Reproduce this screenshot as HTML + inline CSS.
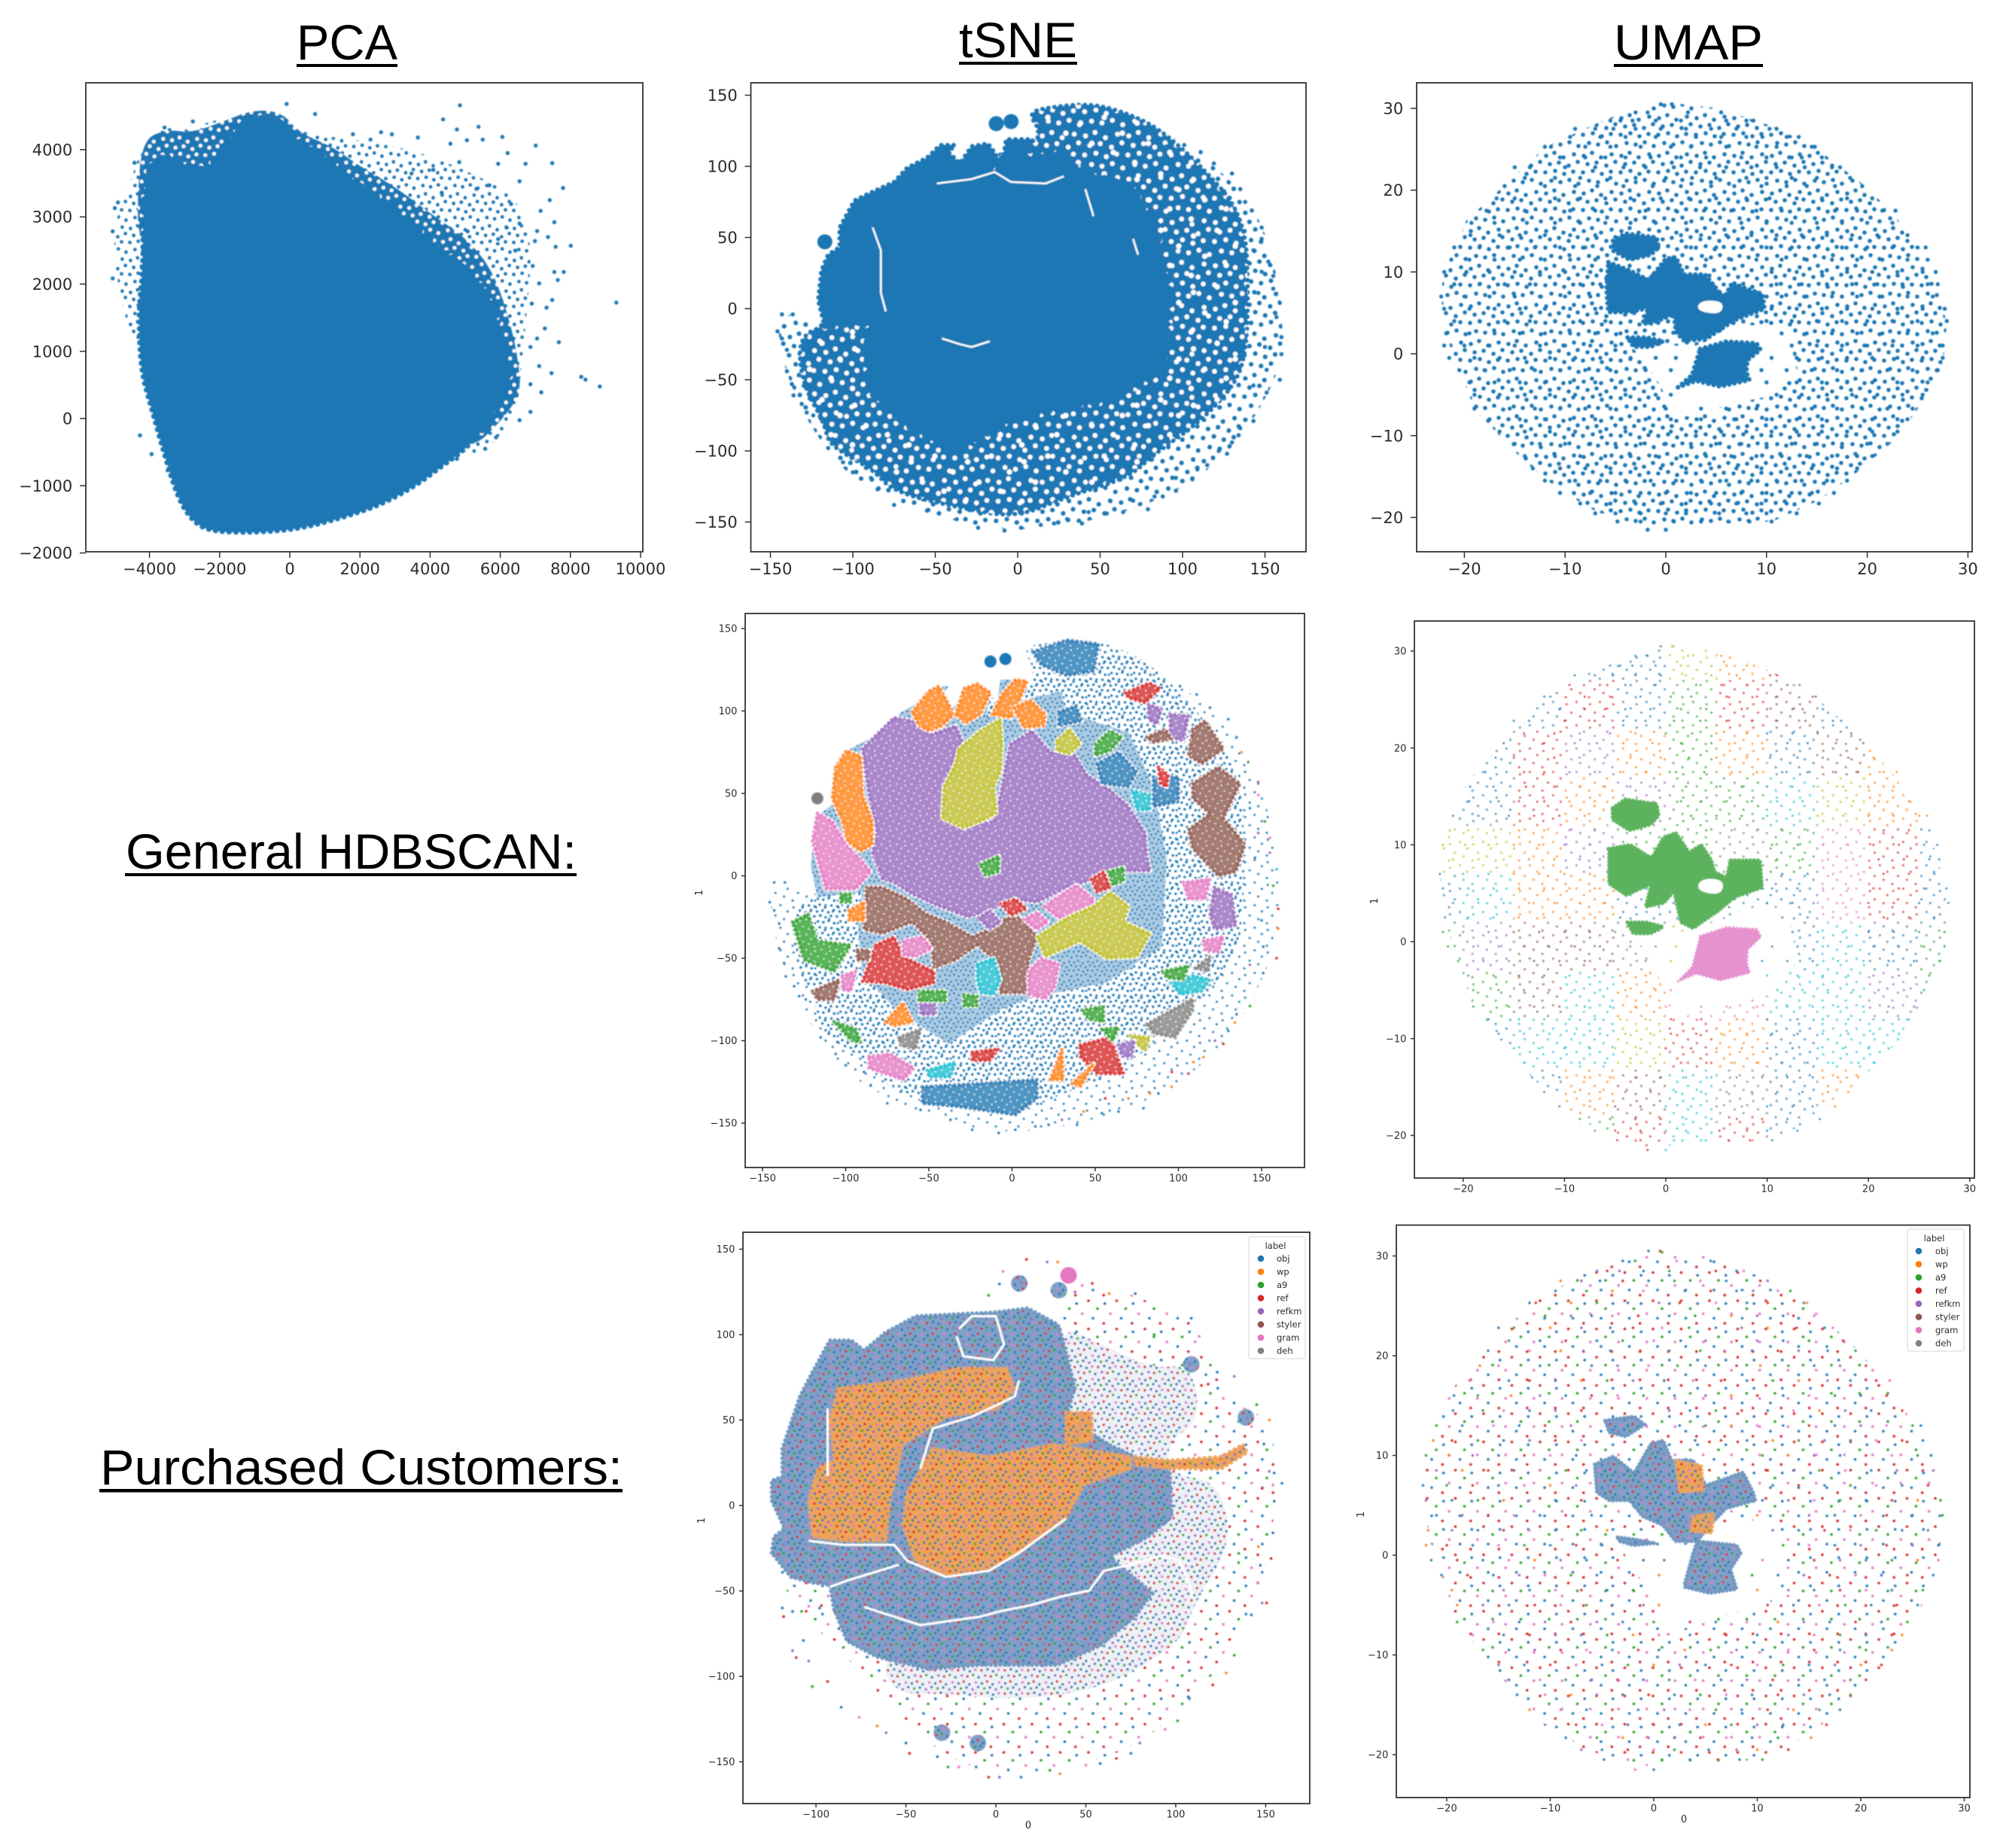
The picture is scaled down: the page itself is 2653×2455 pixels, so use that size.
<!DOCTYPE html>
<html lang="en"><head><meta charset="utf-8"><title>PCA, tSNE and UMAP projections</title>
<style>html,body{margin:0;padding:0;background:#fff}svg{display:block}text{font-family:"DejaVu Sans","Liberation Sans",sans-serif;fill:#2b2b2b}.head{font-family:"Liberation Sans",sans-serif;fill:#000;font-size:66px}</style></head>
<body>
<svg id="figure" xmlns="http://www.w3.org/2000/svg" width="2653" height="2455" viewBox="0 0 2653 2455">
<defs>
<filter id="soft" x="-2%" y="-2%" width="104%" height="104%"><feGaussianBlur stdDeviation="0.7"/></filter>
<g id="tile-dense" fill="currentColor"><circle cx="4" cy="7" r="2.8"/><circle cx="15" cy="3" r="2.8"/><circle cx="27" cy="9" r="2.8"/><circle cx="41" cy="5" r="2.8"/><circle cx="9" cy="18" r="2.8"/><circle cx="21" cy="16" r="2.8"/><circle cx="34" cy="20" r="2.8"/><circle cx="46" cy="15" r="2.8"/><circle cx="3" cy="29" r="2.8"/><circle cx="16" cy="27" r="2.8"/><circle cx="28" cy="31" r="2.8"/><circle cx="40" cy="28" r="2.8"/><circle cx="11" cy="40" r="2.8"/><circle cx="23" cy="42" r="2.8"/><circle cx="35" cy="39" r="2.8"/><circle cx="47" cy="44" r="2.8"/></g>
<g id="tile-sparse" fill="currentColor"><circle cx="7" cy="9" r="2.4"/><circle cx="28" cy="4" r="2.4"/><circle cx="44" cy="18" r="2.4"/><circle cx="17" cy="27" r="2.4"/><circle cx="36" cy="35" r="2.4"/><circle cx="5" cy="44" r="2.4"/></g>
<g id="tile-mix-dense"><circle cx="4" cy="7" r="2.8" fill="#1f77b4"/><circle cx="15" cy="3" r="2.8" fill="#d62728"/><circle cx="27" cy="9" r="2.8" fill="#1f77b4"/><circle cx="41" cy="5" r="2.8" fill="#e377c2"/><circle cx="9" cy="18" r="2.8" fill="#2ca02c"/><circle cx="21" cy="16" r="2.8" fill="#1f77b4"/><circle cx="34" cy="20" r="2.8" fill="#9467bd"/><circle cx="46" cy="15" r="2.8" fill="#1f77b4"/><circle cx="3" cy="29" r="2.8" fill="#d62728"/><circle cx="16" cy="27" r="2.8" fill="#1f77b4"/><circle cx="28" cy="31" r="2.8" fill="#1f77b4"/><circle cx="40" cy="28" r="2.8" fill="#e377c2"/><circle cx="11" cy="40" r="2.8" fill="#9467bd"/><circle cx="23" cy="42" r="2.8" fill="#d62728"/><circle cx="35" cy="39" r="2.8" fill="#2ca02c"/><circle cx="47" cy="44" r="2.8" fill="#1f77b4"/></g>
<g id="tile-mix-sparse"><circle cx="7" cy="9" r="2.4" fill="#1f77b4"/><circle cx="28" cy="4" r="2.4" fill="#d62728"/><circle cx="44" cy="18" r="2.4" fill="#2ca02c"/><circle cx="17" cy="27" r="2.4" fill="#e377c2"/><circle cx="36" cy="35" r="2.4" fill="#1f77b4"/><circle cx="5" cy="44" r="2.4" fill="#d62728"/></g>
</defs>
<rect width="2653" height="2455" fill="#fff"/>

<text class="head" x="394" y="79" textLength="134" lengthAdjust="spacingAndGlyphs">PCA</text>
<rect x="394" y="85" width="134" height="4" fill="#000"/>
<text class="head" x="1274" y="76" textLength="157" lengthAdjust="spacingAndGlyphs">tSNE</text>
<rect x="1274" y="82" width="157" height="4" fill="#000"/>
<text class="head" x="2144" y="79" textLength="198" lengthAdjust="spacingAndGlyphs">UMAP</text>
<rect x="2144" y="85" width="198" height="4" fill="#000"/>
<text class="head" x="167" y="1154" textLength="599" lengthAdjust="spacingAndGlyphs">General HDBSCAN:</text>
<rect x="166" y="1160" width="600" height="4" fill="#000"/>
<text class="head" x="133" y="1972" textLength="694" lengthAdjust="spacingAndGlyphs">Purchased Customers:</text>
<rect x="132" y="1978" width="695" height="4.5" fill="#000"/>
</svg>
<script>
/* ---------- categories ---------- */
const legendLabels=["obj","wp","a9","ref","refkm","styler","gram","deh"];
const tab10=["#1f77b4","#ff7f0e","#2ca02c","#d62728","#9467bd","#8c564b","#e377c2","#7f7f7f","#bcbd22","#17becf"];
/* ---------- tick labels ---------- */
const pcaXTicks=[-4000,-2000,0,2000,4000,6000,8000,10000];
const pcaYTicks=[-2000,-1000,0,1000,2000,3000,4000];
const tsneXTicks=[-150,-100,-50,0,50,100,150];
const tsneYTicks=[-150,-100,-50,0,50,100,150];
const tsnePurchasedXTicks=[-100,-50,0,50,100,150];
const umapXTicks=[-20,-10,0,10,20,30];
const umapYTicks=[-20,-10,0,10,20,30];
/* ---------- PCA values ---------- */
const pcaDenseOutline=[[-4120,3530],[-3940,3816],[-3500,3930],[-2950,3760],[-2450,3700],[-1960,3930],[-1470,4390],[-850,4500],[-235,4450],[260,4100],[1120,3870],[1990,3470],[2850,3190],[3840,2730],[4700,2380],[5570,1980],[5940,1470],[6185,950],[6300,550],[5800,150],[5570,-140],[4950,-480],[4330,-710],[3590,-1000],[2600,-1280],[1620,-1455],[380,-1630],[-850,-1695],[-2210,-1685],[-2765,-1540],[-3200,-1170],[-3570,-540],[-3940,150],[-4250,720],[-4310,1640],[-4185,2210],[-4185,3014]];
const pcaFringeOutline=[[-4350,3300],[-4200,4150],[-3500,4300],[-2800,4250],[-2000,4400],[-1000,4600],[-200,4550],[260,4250],[1200,4050],[2000,3750],[3000,3450],[4000,3050],[5000,2700],[5800,2200],[6300,1400],[6500,900],[6600,400],[6100,0],[5000,-550],[0,0],[-4300,2500]];
const pcaHazeOutline=[[260,4250],[1800,4150],[3500,4000],[5000,3700],[6500,3300],[6900,2600],[6800,1800],[6600,800],[6500,100],[5700,-450],[4800,-620],[3000,2000],[0,3000],[-3000,2500],[-4000,1000],[-4330,1000],[-4700,1500],[-5000,2300],[-5000,2900],[-4700,3300],[-4300,3900],[-4100,4150],[-3500,4350],[-2700,4350],[-2000,4450],[-900,4620]];
const pcaOutliers=[[9310,1725],[8840,476],[8310,620],[8430,580],[8010,2570],[7790,3430],[4850,4660],[4370,4450],[5380,4340],[4765,4300],[6060,4190],[7010,4060],[6210,3950],[5500,4150],[5050,4140],[4580,4090],[3650,4180],[2910,4230],[2600,4260],[1800,4230],[2300,4150],[720,4530],[-90,4680],[6720,3790],[7480,3800],[5940,3790],[7410,3250],[7540,2920],[7150,3090],[7050,2790],[7360,2700],[7580,2555],[6990,2640],[7540,2180],[7810,2180],[7640,2060],[7110,2010],[7480,1765],[6900,1710],[7320,1650],[7270,1340],[7670,1135],[7050,1190],[6860,1065],[7110,780],[7460,675],[6860,510],[7170,390],[6860,100],[6550,-25],[5880,-280],[5570,-450],[4765,-600],[-4270,-250],[-3940,-530],[-3480,-770],[-5050,2085],[-5050,2785],[-4990,3130],[-4900,3215],[-4430,3805],[-2765,4420],[-3570,4330],[6550,3530],[6310,3190],[6185,2840],[6430,2500],[6925,2270],[5320,3415],[4330,3360],[3470,3645],[4090,3700],[4830,3815],[5690,3470],[6550,2900],[5940,2670],[5070,2785]];
/* ---------- tSNE embedding values ---------- */
const tsneDenseOutline=[[-117,-13],[-121,6],[-119,27],[-115,38],[-108,43],[-108,57],[-99,76],[-90,81],[-75,89],[-67,99],[-55,106],[-47,115],[-38,115],[-42,110],[-35,102],[-28,114],[-18,116],[-13,108],[-16,96],[-10,98],[-7,119],[9,119],[9,112],[4,106],[30,112],[31,103],[45,95],[70,87],[85,54],[93,11],[90,-43],[56,-65],[30,-70],[9,-75],[-7,-81],[-38,-102],[-70,-81],[-90,-59],[-93,-27],[-90,-10]];
const tsneLooseOutline=[[-117,-13],[-90,60],[-50,100],[9,112],[14,125],[6,138],[22,142],[46,144],[67,137],[85,127],[109,103],[138,65],[140,6],[138,-35],[130,-56],[109,-81],[83,-102],[67,-119],[30,-132],[-1,-147],[-35,-140],[-75,-129],[-88,-113],[-101,-105],[-115,-94],[-117,-81],[-130,-54],[-133,-27],[-127,-16]];
const tsneDiscOutline=[[-146,-16],[-140,-2],[-128,-10],[-117,-13],[-90,60],[0,110],[60,140],[100,118],[135,85],[150,55],[157,25],[161,-10],[160,-40],[145,-75],[125,-105],[95,-130],[55,-147],[5,-157],[-40,-150],[-85,-130],[-108,-112],[-130,-75],[-142,-40]];
const tsneDenseCracks=[[[-46,-21],[-35,-25],[-28,-27],[-17,-23]],[[-88,57],[-83,41],[-83,11],[-80,-2]],[[-49,88],[-28,91],[-14,96],[-4,89],[17,88],[28,93]],[[41,84],[46,65]],[[70,49],[73,38]]];
const tsneClumps=[[-13,130],[-4,131.5],[-117,47]];
const tsneClumpHdbLabels=[0,0,7];
const tsneOuter=[[-145.7,-16],[-143,-4],[-136.5,-4],[-143,-21],[-140,-29],[-140,-44],[-137,-53],[-136,-61],[-131,-67],[-128,-73],[-124,-75],[-115,-98],[-106,-108],[-100,-115],[-89,-119],[-85,-127],[-75,-138],[-55,-142],[-37,-148],[-24,-154],[-8,-156],[2,-154],[14,-152],[22,-151],[39,-151],[54,-144],[64,-143],[79,-141],[88,-132],[96,-128],[106,-120],[115,-110],[127,-102],[134,-89],[143,-79],[151,-59],[159,-50],[160,-32],[160,-20],[157,-6],[159,4],[155,14],[155,23],[148,26],[152,33],[148,49],[148,57],[142,69],[138,75],[135,84],[130,95],[119,102],[111,110],[101,115],[90,114],[130,-94],[122,-100],[109,-113],[96,-119],[83,-132],[70,-135],[56,-135],[43,-143],[30,-148],[143,-54],[151,-43],[150,-27],[146,11],[143,41],[135,-84]];
const tsneOuterHdbLabels="0000000000000000000000000000013131203132946426421000000041311314400000022";
const tsneHdbClusterLabels=[0,0,0,4,8,1,1,1,1,1,6,5,3,6,9,6,6,6,8,2,3,2,3,4,8,0,9,5,5,2,7,6,1,2,3,1,1,3,9,2,4,6,7,3,2,0,2,4,4,5,3,7,4,2,2,2,9,8,4,6,1,2,5,6,5];
const tsneHdbClusterOutlines=[
[[12.5,136],[33,143],[52,140.6],[49,124],[33,121.5],[17.6,128]],
[[28,99.5],[38.5,103],[42,94],[28,91]],
[[-54,-128],[-19,-126],[15,-123.6],[15,-135],[2,-145],[-32,-140],[-54,-138]],
[[-90,77],[-71,96],[-60,94],[-49,85.5],[-34,91],[-30,82],[-37,66],[-42,49],[-42,35],[-32,29],[-11,33],[-7,49],[-4,66],[-1,80],[12,88],[23,75],[38,73],[45,61],[59,52],[70,42],[80,26],[81,12],[83,3],[70,3],[49,-2],[33,-7],[15,-16],[0,-14],[-13.5,-21],[-26.5,-25],[-45,-18],[-60,-11],[-71,-4],[-78,-2],[-84,14],[-81,26],[-86,49]],
[[-32,77],[-19,88],[-7,95],[-6,80],[-7,63],[-11,54],[-9.5,38],[-19,33],[-29,29],[-42,35],[-41,54],[-34,68]],
[[-60,99.5],[-50,112],[-44,115],[-35,98],[-42,91],[-50,88],[-56,91]],
[[-34,98],[-29,113.5],[-21,116.5],[-13,111],[-19,98],[-28,92.5]],
[[-12,98],[-6,110],[2,119],[9,118],[5,108],[-.5,96],[-7,97]],
[[1,102],[11,106.5],[20,98],[19,91],[7,90]],
[[-106,66],[-99.5,76],[-91,72.5],[-90,49],[-84,33],[-84,19],[-91,15],[-99,21],[-102,33],[-108,47]],
[[-117,38],[-108,33],[-100,19],[-91,10],[-85,2.5],[-94,-8],[-112,-8],[-116,7],[-120,21]],
[[-87.5,-7],[-78,-7],[-63,-14],[-52,-23],[-39.5,-28],[-24,-37],[-13.5,-32.5],[-3,-25.5],[4.7,-25.5],[15,-37],[10,-51],[8.6,-71],[-7,-71],[-7,-53.5],[-21,-42],[-34,-51],[-47,-56],[-48.5,-39.5],[-60,-28],[-78,-35],[-89,-32.5]],
[[-82,-42],[-71,-37],[-65.5,-49],[-47,-58],[-47,-65],[-63,-69],[-76,-65],[-90,-64],[-86,-53.5]],
[[-65.5,-39.5],[-54,-37],[-48.5,-44],[-58,-49],[-65.5,-48]],
[[-21,-53.5],[-11,-50],[-7,-63],[-11,-72],[-19,-71],[-21,-63]],
[[10,-58],[17.6,-50],[28,-53.5],[25.5,-67.5],[20,-74.5],[10,-72]],
[[19,-18.5],[38.5,-5.6],[49,-14],[46,-23],[28,-25.5]],
[[7,-26.6],[15,-22],[21.5,-28],[15,-32.5]],
[[15,-37],[33,-25.5],[49,-18.5],[59,-10],[70,-18.5],[67,-28],[83,-35],[75,-49],[56.6,-50],[41,-39.5],[31,-44],[20,-49]],
[[-19,7],[-8,12],[-8,2.5],[-16,0]],
[[47.5,-2],[55,2.5],[59,-7],[51,-10]],
[[58,2.5],[67,5],[67,-3],[60.5,-5.6]],
[[-7,-17],[2,-14],[8.6,-20],[-.5,-24]],
[[-20,-25.5],[-13.5,-21],[-7,-28],[-13.5,-32.5]],
[[27,82],[34.5,89],[41,80],[34.5,74],[27,76]],
[[51,68],[64,75],[75,63],[70,54],[54,56]],
[[72,52],[83,49],[83,40],[75,40]],
[[108.6,89],[116,94],[127,77],[114,68],[106,73]],
[[108.6,56],[124,66],[137,56],[127,35],[140,19],[134.5,2.5],[124,0],[108.6,16.6],[106,28],[119,37.6],[108.6,47]],
[[-132,-28],[-122.6,-23],[-117,-39.5],[-97,-42],[-107,-58],[-125,-51]],
[[81,-90],[108.6,-74.5],[108.6,-81.5],[98,-98],[85,-95.5]],
[[-86,-109.6],[-73.5,-108],[-59,-116.6],[-65.5,-123.6],[-86,-116.6]],
[[-76,-88.5],[-65.5,-77],[-60,-88.5],[-70.6,-91]],
[[-107,-88.5],[-94,-93],[-91,-101],[-96.6,-100]],
[[41,-102.6],[59,-98],[67,-120],[51,-120],[41,-109.6]],
[[23,-123.6],[30,-105],[30.6,-123.6]],
[[36,-126],[49,-114],[41,-128]],
[[-24,-107],[-8,-105],[-13.5,-112],[-24,-112]],
[[95.6,-65],[108.6,-60.5],[119,-63],[114,-70],[101,-72]],
[[90.4,-58],[106,-54.6],[103,-63],[93,-61.7]],
[[121.6,-7],[132,-11.4],[134.5,-30],[121.6,-32.5],[119,-23]],
[[115,-39.5],[127,-37],[124,-46.5],[116,-45]],
[[110,-56],[119,-49],[118,-58]],
[[68,111],[82.6,117],[89,113.6],[80,105],[70,108]],
[[50,80],[59,88],[66,84],[59,76],[50,73]],
[[85,60],[100,60],[100,45],[85,42]],
[[-56,-70],[-40,-70],[-40,-76],[-56,-76]],
[[82,104],[90,101],[87,92],[82,95]],
[[95,98],[106,97],[103,82],[95,84]],
[[81,84],[92,89],[96,83],[85,81]],
[[88,66],[94,61],[93,54],[89,56]],
[[-68,-98],[-55,-93],[-58,-105],[-67,-103]],
[[-55,-78],[-46,-78],[-46,-84],[-55,-84]],
[[-29,-72],[-21,-73],[-21,-79],[-29,-79]],
[[42,-81.5],[55,-79],[55,-88.5],[46,-87]],
[[54,-93],[64,-92],[60.5,-100]],
[[-51,-118],[-34,-113],[-37,-122],[-50,-122]],
[[71,-97],[82.6,-98],[80,-106],[75,-102]],
[[64,-102.6],[73.5,-100],[72,-109.6],[66,-109.6]],
[[103,-4],[119,-2],[116,-14],[106,-14]],
[[-98,-21],[-89,-16],[-89,-27],[-98,-27]],
[[-103,-11],[-97,-11],[-97,-16],[-103,-16]],
[[-120,-70],[-104,-63],[-107,-75],[-117,-75]],
[[-102,-60.5],[-94,-58],[-97,-70],[-102,-69]],
[[-93,-45],[-86,-45],[-86,-51],[-93,-51]]];
/* ---------- tSNE purchased-customer values ---------- */
const tsneBuyerDiscOutline=[[-124.6,-27.7],[-114,-58],[-80.4,-91],[-51.7,-126.4],[-23,-150],[5.7,-158],[36.8,-154.5],[75,-143],[103.8,-119],[125.4,-93.4],[144.5,-65],[151.6,-20.7],[158.6,12.2],[151.6,52],[135,56.8],[118,85],[111,110],[82.6,120],[44,136],[34.4,106]];
const tsneBuyerMidOutline=[[34,106],[53.6,97],[87,80],[108.6,82.6],[114,50],[94,36],[99,17],[123,15],[132,-21],[111,-56],[104,-77],[87,-91],[58,-107],[15,-114],[-32,-110],[-56,-110],[-66,-88],[30,0]];
const tsneBuyerMassOutline=[[-124.6,-27.7],[-123.4,-18.3],[-117.5,-13.6],[-124.6,2.8],[-124.6,14.6],[-118.7,16.9],[-118.7,33.3],[-109,63.8],[-102,78],[-92.3,96.7],[-80.4,96.7],[-73.2,90.8],[-61.2,101.4],[-44.5,110.8],[-23,112],[-1.4,113],[17.7,115.5],[34.4,106],[36.8,99],[44,68.5],[39,52],[63,35.7],[77.5,28.6],[96.7,21.6],[97.8,-6.6],[84.7,-18.3],[63,-30],[87,-51],[77.5,-65],[58.4,-81.7],[34.4,-93.4],[-8.6,-93.4],[-37.3,-95.8],[-66,-88.7],[-82.8,-79.3],[-90,-60.6],[-92.3,-46.5],[-102,-45.3],[-114,-41.8]];
const tsneBuyerOrangeOutlines=[
[[-92.3,49.8],[-87.6,68.5],[-51.7,73.2],[-20.6,80.3],[5.7,80.3],[10.5,68.5],[1,56.8],[-27.5,52],[-51.7,35.7],[-59,2.8],[-61.2,-20.7],[-85,-20.7],[-101.7,-18.3],[-104,2.8],[-99,21.6],[-89.5,26.3]],
[[-35,33.3],[-3.8,28.6],[32,35.7],[75,28.6],[75,21.6],[49,12.2],[39,-6.6],[12.9,-27.7],[-3.8,-37],[-27.8,-40.6],[-44.5,-32.4],[-51.7,-11.3],[-49.3,7.5]],
[[77.5,28.6],[96.7,26.3],[125.4,28.6],[137.3,35.7],[139.7,31],[125.4,21.6],[96.7,21.6],[77.5,23.9]],
[[39,54.5],[53.4,54.5],[53.4,38],[39,35.7]]];
const tsneBuyerCracks=[
[[-93.5,56.8],[-93.5,17]],
[[-104,-20.7],[-85,-23],[-56.5,-23],[-49.3,-32.4],[-27.8,-41.8],[-3.8,-38.2],[12.9,-27.7],[39,-7.7]],
[[-73.2,-59.4],[-42,-70],[-8.6,-65],[3,-61.7],[18.4,-58.6],[37.6,-52.9],[52,-49.8],[60,-38.3],[77,-34],[91,-29.5]],
[[-92.3,-47.7],[-82.8,-44],[-54,-34.7]],
[[-42,21.6],[-35,45],[-13.4,52],[10.5,63.8],[12.9,73.2]],
[[-21.8,99],[-18,87.3],[-1.4,85],[4.5,94.4],[0,110.8],[-13.4,110.8],[-20.6,103.3]],
[[91,-29.5],[102,-32],[109,-50],[109,-54]]];
const tsneBuyerClumps=[[40.4,134.7],[13,130],[35,126],[139,51.6],[108.6,82.6],[-30,-133],[-10,-139]];
const tsneBuyerClumpLabels=[6,0,0,0,0,0,0];
const tsneBuyerOuter=[[-118.7,-60],[-118,-65],[-113,-62],[-108,-62],[-104,-59],[-98,-60],[-113,-85],[-111,-89],[-104,-91],[-107,-79],[-102,-106],[-93.5,-103],[-86,-118],[-76,-124],[-66,-129],[-61,-133],[-50,-139],[-48,-145],[-32.5,-147],[-26.6,-153],[-20.6,-153],[-11,-153],[-4,-159],[2,-159],[14,-159],[30,-155],[35.6,-157],[50,-152],[58,-151],[67,-148],[75,-145],[80,-139],[94,-131],[101,-126],[107,-112],[120.6,-105],[128,-98],[132.5,-87.6],[142,-64],[148,-57],[150.5,-57],[145.7,-45],[147,-35],[153,-31],[154,-16],[146,-24],[135,-28],[152,20],[159,13],[154,12],[148,10],[149,36],[145,59],[152,50],[132.5,75.6],[123,78],[118,71],[113,99],[108.6,109.6],[88,100],[63,124],[44,125],[77.5,124],[17,144],[4,137],[-4,123],[2,129.6],[28.5,142.5],[34.4,142.5],[53.6,130]];
const buyerLabels="0302604340230614030260340216030462031204360301240630214036021403620413062";
/* ---------- UMAP embedding values ---------- */
const umapCloudOutline=[[-22.1,9.8],[-22.3,6.9],[-21.7,1.8],[-20.2,-2.9],[-19,-6.7],[-16.5,-10],[-14,-13.2],[-10.7,-16.5],[-6.9,-19.3],[-1.9,-21.2],[3.5,-20.8],[10.6,-20.5],[15.2,-17.9],[19.3,-14.2],[23,-10.2],[25.6,-5.7],[27.5,-1.5],[27.9,3.7],[26.8,8.8],[25.2,13],[22.3,17.5],[19.3,21],[14.75,25.3],[10.6,27.8],[5.2,30],[.2,30.7],[-5.7,28.8],[-11.9,25.3],[-16.9,19.6],[-19.8,16.3],[-21,12.6]];
const umapHoleOutline=[[-3.5,1],[3,1],[8,3.5],[12,3.5],[13,-2],[11,-5],[7,-6],[1,-8],[-.5,-4],[-2,-1]];
const umapMainOutline=[[-5.7,11.2],[-3.6,10.2],[-1.7,9],[0,11.6],[1,11.8],[1.8,9.7],[3.9,9.7],[5,8],[5.8,6.9],[6.6,8.7],[7.9,8],[9.6,7.3],[9.8,5.5],[6.8,4.1],[4,1.8],[1.8,1.6],[1,2.7],[.8,4.8],[-1.5,3.7],[-2.3,3.7],[-1.7,5.6],[-3.6,5.1],[-5.7,5.1],[-5.9,7.9]];
const umapIslandGapOutline=[[3.2,5.2],[5.4,4.8],[5.8,6.2],[4.4,6.6],[3.2,6.2]];
const umapTopOutline=[[-5.25,13.8],[-4,14.7],[-.9,14.2],[-.7,13],[-1.5,12.1],[-3.6,11.5],[-5.25,12.6]];
const umapSliverOutline=[[-3.8,2],[-1.9,2],[-.25,1.55],[-1.5,.85],[-3.2,.85]];
const umapLowerOutline=[[3.4,.6],[6,1.5],[9,1.3],[9.4,.5],[8.1,-.8],[8,-2.2],[8.3,-3.2],[5.4,-4],[3,-3.3],[1.2,-4.1],[2.6,-2.6]];
const umapHdbMainOutline=[[-5.6,9.6],[-3.5,10],[-1.4,8.6],[-.2,10.8],[1,11.2],[2.3,9.2],[3.5,10],[4.5,8.4],[4.8,7.2],[6,6.6],[6.4,8.4],[9.3,8.4],[9.5,5.6],[6.8,4.6],[5.2,3.2],[2.7,1.4],[1.5,2],[.8,5.2],[-.2,4],[-2,3.6],[-1.4,6],[-3.9,4.8],[-5.6,6]];
const umapBuyerMainOutline=[[-5.7,9.1],[-3.9,9.9],[-1.9,8.2],[-.3,11.1],[.9,11.5],[1.7,9.5],[3.8,9.5],[5,7],[6.2,7.4],[8.6,8.3],[9.6,6.3],[9.8,5.5],[7,4.7],[5.4,3],[4.2,1.4],[2.1,1.4],[.9,3],[-1.1,3.9],[-2.3,5.5],[-4.3,5.5],[-5.5,6.3]];
const umapBuyerLowerOutline=[[3,-2.8],[3.8,.2],[4.2,1.4],[8,1],[8.4,.2],[7.4,-1.4],[8,-3.4],[5.4,-3.8],[3,-3.2]];
const umapBuyerTopOutline=[[-4.7,13.5],[-1.9,13.9],[-.9,13.1],[-2.7,11.9],[-4.3,12.3]];
const umapBuyerSliverOutline=[[-3.5,1.8],[-1.9,1.6],[.1,1.2],[-1.9,1],[-3.3,1.4]];
const umapBuyerOrangeOutlines=[[[2.1,9.5],[4.6,9],[4.8,6.5],[2.5,6.3]],[[3.8,3.9],[5.8,4.2],[5.6,2.2],[3.6,2.4]]];
const umapCloudRows=[
[30.5,-.5,.6],[29.5,-3,-1.8,2.2,5.5],[28.5,-5.5,-4.5,-3.3,-1,1.5,6,8,8.7],[27.5,-9,-7,-5.2,-3,-.5,2,4.5,7,10.3,11],
[26.5,-9.5,-6.5,-4,-1,3,5.5,8,9.6,12,13.2],[25.3,-12,-11.4,-8,-5.5,-2.5,.5,2.5,6,9,11,14.5,14.8],[24,-10.5,-8,-6,-4,-1.5,1.5,4,7.5,10,12.5,13.5,15.5],
[22.8,-15,-13.5,-10,-7,-4.2,-2,.8,3.4,6,8.5,11,13.8,16.5,17.3],[21.5,-14,-11,-8.5,-5.5,-3,0,2.6,5,8,10,12.5,15,18.3],[20.5,-16,-12,-9,-6.8,-4.2,-1.3,1.5,4.5,6.8,9.5,12,14,16.8,19.5],
[19,-16.8,-15,-11,-8.5,-6,-3.5,-.5,2.3,5,8,10.3,13,15.5,18,20.5],[17.5,-17.8,-14,-12,-9.5,-7,-4.5,-2,1,3.8,6.5,9,11.5,14,16.8,19,21.5,22.8],[16,-19.3,-17,-13.8,-11,-8.5,-6,-3.5,-1,2,5,7.5,10,12.5,15,17.5,20,22.5],
[14.5,-19.4,-16.5,-14.5,-12,-9.5,-7,1.5,3.5,6,8.5,11,13.5,16,18.5,21,24],[13,-18.5,-21,-15.5,-13,-10.5,-8,2.5,5,7.5,10,12.5,15,17.5,20,22.5,25,25.8],[11.5,-19.5,-21.3,-17,-14.5,-12,-9.5,-7,4,6.5,9,11.5,14,16.5,19,21.5,24,26],
[10,-22,-19.8,-17.5,-15,-12.5,-10,-7.5,10.5,13,15.5,18,20.5,23,25.5,26.8],[8.5,-21,-18.5,-16,-13.5,-11,-8.5,-6.5,11,13.5,16,18.5,21,23.5,26,27],[7,-22.3,-20,-17.5,-15,-12.5,-10,-7.5,11.5,14,16.5,19,21.5,24,26.5],
[5.5,-22,-19.5,-17,-14.5,-12,-9.5,-7,10.5,13,15.5,18,20.5,23,25.5,27.7],[4,-21,-18.5,-16,-13.5,-11,-8.5,-6,10,12.5,15,17.5,20,22.5,25,27.9],[2.5,-21.8,-19.5,-17,-14.5,-12,-9.5,-7,-4.5,11.5,14,16.5,19,21.5,24,26.5],
[1,-22,-20,-17.5,-15,-12.5,-10,-7.5,-5,12.5,15,17.5,20,22.5,25,27.5],[-.5,-21.5,-19,-16.5,-14,-11.5,-9,-6.5,-3.5,-1,1,10.5,13,15.5,18,20.5,23,25.5,27.5],[-2,-20.5,-18,-15.5,-13,-10.5,-8,-5.5,-2,.5,9.5,12,14.5,17,19.5,22,24.5,27],
[-3.5,-19.5,-17,-14.5,-12,-9.5,-7,-4.5,-2,10,13,15.5,18,20.5,23,26],[-5,-19,-16.5,-14,-11.5,-9,-6.5,-4,-1,.5,11,13.5,16,18.5,21,23.5,25.5],[-6.7,-19,-15.5,-13,-10.5,-8,-5.5,-3,0,3.5,6,9,12,14.5,17,19.5,22,24.5],
[-8,-17.5,-14.5,-12,-9.5,-7,-4.5,-2,.5,3.5,7,10,13,15.5,18,20.5,23,24],[-9.5,-16.5,-14,-11.5,-9,-6.5,-4,-1.5,.5,3,5.5,8,10.5,13,15.5,18,20.5,23],[-11,-15,-12.5,-10,-7.5,-5,-2.5,0,2.5,5,7.5,10,12.5,15,17.5,20,22],
[-12.5,-14,-11,-8.5,-6,-3.5,-1,1.5,4,6.5,9,11.5,14,16.5,19,20.5],[-14,-13.2,-10.5,-8,-5.5,-3,-.5,2,4.5,7,9.5,12,14.5,17,19],[-15.5,-12,-9,-6.5,-4,-1.5,1,3.5,6,8.5,11,13.5,16,18],
[-17,-10.5,-7.5,-5,-2.5,0,2.5,5,7.5,10,12.5,14.5,16.7],[-18.3,-8.5,-5.5,-3,-.5,2,4.5,7,9.5,12,15.2],[-19.5,-7,-5,-2.5,0,2,5.3,8,10,13],[-20.5,-4.8,-2.5,.8,3.5,6.2,8.3,10.5],[-21.5,-1.8,0]];
/* HDBSCAN label per 5-unit cell: rows from y=32 downward, columns from x=-25 rightward */
const umapHdbGrid=["00000813600","00030235060","00341210510","00314229811","88142272630","09110000630","24557800902","02591669942","00998310992","00015970190","00023930000"];

/* ---------- axis geometry ---------- */
function panel(left,right,top,bottom,xZero,xUnit,yZero,yUnit,tickFont,tickLen,labelGap){return {left,right,top,bottom,x:v=>xZero+v*xUnit,y:v=>yZero-v*yUnit,tickFont,tickLen,labelGap};}
const panelPca=panel(114,854,110,733,385,.0466,556,.0893,21,8,14);
const panelTsne=panel(997.5,1735,110,733,1352,2.19,410,1.89,21,8,14);
const panelUmap=panel(1882,2620,110,733,2213,13.38,470,10.87,21,8,14);
const panelTsneHdb=panel(990,1733,815,1551,1344.5,2.21,1163.5,2.19,13,5,8);
const panelUmapHdb=panel(1879,2623,825,1565,2213,13.46,1251,12.87,13,5,8);
const panelTsneBuy=panel(987,1740,1637,2396,1323,2.39,2000,2.27,13,5,8);
const panelUmapBuy=panel(1855,2617,1627.5,2388,2197,13.75,2066,13.25,13,5,8);

const NS="http://www.w3.org/2000/svg";
const figure=document.getElementById("figure");
const defs=figure.querySelector("defs");
function mk(tag,attrs,parent){const e=document.createElementNS(NS,tag);for(const k in attrs)e.setAttribute(k,attrs[k]);(parent||figure).appendChild(e);return e;}
function makePattern(id,tile,color,scale,bg){
  const p=mk("pattern",{id:id,patternUnits:"userSpaceOnUse",width:50,height:50,patternTransform:"scale("+scale+")"},defs);
  if(bg)mk("rect",{width:50,height:50,fill:bg},p);
  const u=mk("use",{href:"#"+tile},p);
  if(color)u.setAttribute("color",color);
}
makePattern("top-dense","tile-dense","#1f77b4",1);
makePattern("top-fringe","tile-dense","#ffffff",.9,"#1f77b4");
makePattern("top-haze","tile-dense","#1f77b4",.85);
makePattern("pale-haze","tile-sparse","#1f77b4",.6);
makePattern("top-disc","tile-dense","#1f77b4",1.1);
makePattern("holes","tile-dense","#ffffff",1.15,"#1f77b4");
makePattern("holes-big","tile-sparse","#ffffff",1.5);
makePattern("mid-blue","tile-dense","#1f77b4",.6);
makePattern("noise","tile-dense","#1f77b4",.5,"#a9cbe3");
makePattern("mix-outer","tile-mix-sparse",null,.75);
makePattern("mix-mid","tile-mix-dense",null,.62,"#edf1f6");
makePattern("mix-tsne","tile-mix-dense",null,.6,"#7fa0c6");
makePattern("mix-umap","tile-mix-dense",null,.6,"#7fa0c6");
makePattern("mix-orange","tile-mix-dense",null,.6,"#eda358");
makePattern("speck-white","tile-sparse","#ffffff",.4);
tab10.forEach((c,i)=>makePattern("cell-"+i,"tile-sparse",c,.62));

function pts(o,p){return o.map(q=>p.x(q[0]).toFixed(1)+","+p.y(q[1]).toFixed(1)).join(" ");}
function pathOf(o,p){return "M"+pts(o,p).split(" ").join("L")+"Z";}
function smoothPath(o,p){
  const P=o.map(q=>[p.x(q[0]),p.y(q[1])]),n=P.length;
  const mid=(a,b)=>((a[0]+b[0])/2).toFixed(1)+" "+((a[1]+b[1])/2).toFixed(1);
  let d="M"+mid(P[n-1],P[0]);
  P.forEach((a,i)=>{d+="Q"+a[0].toFixed(1)+" "+a[1].toFixed(1)+" "+mid(a,P[(i+1)%n]);});
  return d+"Z";
}

function markLayer(name){
  const g=mk("g",{filter:"url(#soft)"});
  
  
  return g;
}
/* jagged edge: straight outline, used for clusters and islands */
function region(g,outline,p,fill,name){
  const e=mk("path",{d:pathOf(outline,p),fill:fill},g);
  
  
  return e;
}
/* rounded edge: used for the large PCA and density envelopes */
function regionSmooth(g,outline,p,fill,name){
  const e=mk("path",{d:smoothPath(outline,p),fill:fill},g);
  
  
  return e;
}
function bumpy(e,color,width,gap){
  e.setAttribute("stroke",color);
  e.setAttribute("stroke-width",width);
  e.setAttribute("stroke-linecap","round");
  e.setAttribute("stroke-dasharray","0.1 "+gap);
  return e;
}
function dot(g,x,y,r,color,name){
  const e=mk("circle",{cx:x.toFixed(1),cy:y.toFixed(1),r:r,fill:color},g);
  
  
  return e;
}
function cracks(g,list,p,width,name){
  list.forEach(o=>{
    const e=mk("polyline",{points:pts(o,p),fill:"none",stroke:"#fff",'stroke-width':width,'stroke-linejoin':"round"},g);
    
    
  });
}
function drawAxes(p,xt,yt,name){
  const g=mk("g",{});
  
  
  const f=mk("rect",{x:p.left,y:p.top,width:p.right-p.left,height:p.bottom-p.top,fill:"none",stroke:"#333",'stroke-width':1.8},g);
  
  
  xt.forEach(v=>{
    const t=mk("line",{x1:p.x(v),x2:p.x(v),y1:p.bottom,y2:p.bottom+p.tickLen,stroke:"#333",'stroke-width':1.5},g);
    
    
    const l=mk("text",{x:p.x(v),y:p.bottom+p.tickLen+p.tickFont*1.05,'text-anchor':"middle",'font-size':p.tickFont},g);
    
    
    l.textContent=String(v).replace("-","\u2212");
  });
  yt.forEach(v=>{
    const t=mk("line",{x1:p.left-p.tickLen,x2:p.left,y1:p.y(v),y2:p.y(v),stroke:"#333",'stroke-width':1.5},g);
    
    
    const l=mk("text",{x:p.left-p.tickLen-p.labelGap*.7,y:p.y(v)+p.tickFont*.36,'text-anchor':"end",'font-size':p.tickFont},g);
    
    
    l.textContent=String(v).replace("-","\u2212");
  });
}
function axisTitle(txt,x,y,rot,name){
  const t=mk("text",{x:x,y:y,'text-anchor':"middle",'font-size':13,transform:rot?"rotate(-90 "+x+" "+y+")":""});
  
  
  t.textContent=txt;
}
function drawLegend(x,y,w,h,markX,textX,firstY){
  const g=mk("g",{});
  
  
  const b=mk("rect",{x:x,y:y,width:w,height:h,rx:3,fill:"#fff",'fill-opacity':.85,stroke:"#ddd",'stroke-width':1.2},g);
  
  
  const t=mk("text",{x:x+w/2-2,y:firstY-13,'text-anchor':"middle",'font-size':11.5},g);
  
  
  t.textContent="label";
  legendLabels.forEach((lab,i)=>{
    const yy=firstY+i*17.5;
    const c=mk("circle",{cx:markX,cy:yy,r:4.3,fill:tab10[i]},g);
    
    
    const l=mk("text",{x:textX,y:yy+4,'font-size':11.5},g);
    
    
    l.textContent=lab;
  });
}
function cloudClip(id,p){
  const cp=mk("clipPath",{id:id},defs);
  mk("path",{d:pathOf(umapCloudOutline,p)+pathOf(umapHoleOutline,p),'clip-rule':"evenodd"},cp);
}
function eachUmapPoint(fn){let i=0;umapCloudRows.forEach(r=>{for(let k=1;k<r.length;k++){fn(r[k],r[0],i);i++;}});}

/* PCA */
(function(){
  const p=panelPca,g=markLayer("pca-scatter");
  regionSmooth(g,pcaHazeOutline,p,"url(#top-haze)","pca-sparse-density");
  regionSmooth(g,pcaFringeOutline,p,"url(#top-fringe)","pca-fringe-density");
  bumpy(regionSmooth(g,pcaDenseOutline,p,"#1f77b4","pca-dense-mass"),"#1f77b4",7,9);
  pcaOutliers.forEach(q=>dot(g,p.x(q[0]),p.y(q[1]),2.7,"#1f77b4","pca-outlier-point"));
  drawAxes(p,pcaXTicks,pcaYTicks,"pca");
})();
/* tSNE */
(function(){
  const p=panelTsne,g=markLayer("tsne-scatter");
  regionSmooth(g,tsneDiscOutline,p,"url(#top-disc)","tsne-sparse-ring");
  bumpy(regionSmooth(g,tsneLooseOutline,p,"url(#holes)","tsne-loose-density"),"#1f77b4",6,8);
  regionSmooth(g,tsneLooseOutline,p,"url(#holes-big)","tsne-loose-gaps");
  bumpy(region(g,tsneDenseOutline,p,"#1f77b4","tsne-dense-mass"),"#1f77b4",6,8);
  cracks(g,tsneDenseCracks,p,2.5,"tsne-gap");
  tsneClumps.forEach(q=>dot(g,p.x(q[0]),p.y(q[1]),10,"#1f77b4","tsne-clump"));
  tsneOuter.forEach(q=>dot(g,p.x(q[0]),p.y(q[1]),2.8,"#1f77b4","tsne-outer-point"));
  drawAxes(p,tsneXTicks,tsneYTicks,"tsne");
})();
/* UMAP */
(function(){
  const p=panelUmap,g=markLayer("umap-scatter");
  cloudClip("clip-umap",p);
  const bg=mk("rect",{x:p.left,y:p.top,width:p.right-p.left,height:p.bottom-p.top,fill:"url(#top-dense)",'clip-path':"url(#clip-umap)"},g);
  
  
  [umapMainOutline,umapTopOutline,umapSliverOutline,umapLowerOutline].forEach(o=>bumpy(region(g,o,p,"#1f77b4","umap-dense-island"),"#1f77b4",6,7));
  regionSmooth(g,umapIslandGapOutline,p,"#fff","umap-island-gap");
  eachUmapPoint((x,y)=>dot(g,p.x(x),p.y(y),2.7,"#1f77b4","umap-point"));
  drawAxes(p,umapXTicks,umapYTicks,"umap");
})();
/* tSNE HDBSCAN */
(function(){
  const p=panelTsneHdb,g=markLayer("tsne-hdbscan-scatter");
  regionSmooth(g,tsneDiscOutline,p,"url(#pale-haze)","tsne-hdbscan-outer-noise");
  regionSmooth(g,tsneLooseOutline,p,"url(#mid-blue)","tsne-hdbscan-noise-density");
  region(g,tsneDenseOutline,p,"url(#noise)","tsne-hdbscan-noise-mass");
  tsneHdbClusterOutlines.forEach((o,i)=>{
    const c=tab10[tsneHdbClusterLabels[i]];
    const white=region(g,o,p,"#fff","tsne-hdbscan-cluster-halo");
    white.setAttribute("stroke","#fff");
    white.setAttribute("stroke-width","6");
    white.setAttribute("stroke-linejoin","round");
    const e=bumpy(region(g,o,p,c,"tsne-hdbscan-cluster"),c,5,6);
    e.setAttribute("fill-opacity",".78");
    e.setAttribute("stroke-opacity",".8");
    region(g,o,p,"url(#speck-white)","tsne-hdbscan-cluster-texture");
  });
  tsneClumps.forEach((q,i)=>dot(g,p.x(q[0]),p.y(q[1]),8,tab10[tsneClumpHdbLabels[i]],"tsne-hdbscan-clump"));
  tsneOuter.forEach((q,i)=>dot(g,p.x(q[0]),p.y(q[1]),1.7,tab10[+tsneOuterHdbLabels[i]||0],"tsne-hdbscan-point"));
  drawAxes(p,tsneXTicks,tsneYTicks,"tsne-hdbscan");
  axisTitle("1",933,1186,true,"tsne-hdbscan-y-axis-title");
})();
/* UMAP HDBSCAN */
(function(){
  const p=panelUmapHdb,g=markLayer("umap-hdbscan-scatter");
  cloudClip("clip-umap-hdb",p);
  const cells=mk("g",{'clip-path':"url(#clip-umap-hdb)"},g);
  
  
  umapHdbGrid.forEach((row,r)=>{[...row].forEach((lab,c)=>{
    const x0=-25+c*5,y1=32-r*5;
    const e=mk("rect",{x:p.x(x0),y:p.y(y1),width:p.x(x0+5)-p.x(x0),height:p.y(y1-5)-p.y(y1),fill:"url(#cell-"+lab+")",'fill-opacity':.75},cells);
    
    
  });});
  [umapHdbMainOutline,umapTopOutline,umapSliverOutline].forEach(o=>bumpy(region(g,o,p,"#5cb25d","umap-hdbscan-green-island"),"#5cb25d",5,5));
  regionSmooth(g,umapIslandGapOutline,p,"#fff","umap-hdbscan-island-gap");
  bumpy(region(g,umapLowerOutline,p,"#e592cf","umap-hdbscan-pink-island"),"#e592cf",3,5);
  eachUmapPoint((x,y)=>{
    const r=Math.min(10,Math.max(0,Math.floor((32-y)/5))),c=Math.min(10,Math.max(0,Math.floor((x+25)/5)));
    dot(g,p.x(x),p.y(y),1.3,tab10[+umapHdbGrid[r][c]],"umap-hdbscan-point");
  });
  drawAxes(p,umapXTicks,umapYTicks,"umap-hdbscan");
  axisTitle("1",1830,1197,true,"umap-hdbscan-y-axis-title");
})();
/* tSNE purchased customers */
(function(){
  const p=panelTsneBuy,g=markLayer("tsne-purchased-scatter");
  regionSmooth(g,tsneBuyerDiscOutline,p,"url(#mix-outer)","tsne-purchased-sparse-density");
  regionSmooth(g,tsneBuyerMidOutline,p,"url(#mix-mid)","tsne-purchased-mid-density");
  bumpy(region(g,tsneBuyerMassOutline,p,"url(#mix-tsne)","tsne-purchased-dense-mass"),"#6f96c0",5,6);
  tsneBuyerOrangeOutlines.forEach(o=>bumpy(region(g,o,p,"url(#mix-orange)","tsne-purchased-orange-region"),"#eda358",5,7));
  cracks(g,tsneBuyerCracks,p,3,"tsne-purchased-gap");
  tsneBuyerClumps.forEach((q,i)=>dot(g,p.x(q[0]),p.y(q[1]),11,tsneBuyerClumpLabels[i]===6?tab10[6]:"url(#mix-tsne)","tsne-purchased-clump"));
  tsneBuyerOuter.forEach((q,i)=>dot(g,p.x(q[0]),p.y(q[1]),1.8,tab10[+buyerLabels[i%buyerLabels.length]],"tsne-purchased-point"));
  drawAxes(p,tsnePurchasedXTicks,tsneYTicks,"tsne-purchased");
  axisTitle("1",936,2020,true,"tsne-purchased-y-axis-title");
  axisTitle("0",1366,2429,false,"tsne-purchased-x-axis-title");
  drawLegend(1659,1643,75,162,1675,1696,1672);
})();
/* UMAP purchased customers */
(function(){
  const p=panelUmapBuy,g=markLayer("umap-purchased-scatter");
  cloudClip("clip-umap-buy",p);
  const bg=mk("rect",{x:p.left,y:p.top,width:p.right-p.left,height:p.bottom-p.top,fill:"url(#mix-outer)",'clip-path':"url(#clip-umap-buy)"},g);
  
  
  [umapBuyerMainOutline,umapBuyerTopOutline,umapBuyerSliverOutline,umapBuyerLowerOutline].forEach(o=>bumpy(region(g,o,p,"url(#mix-umap)","umap-purchased-island"),"#6f96c0",5,5));
  umapBuyerOrangeOutlines.forEach(o=>bumpy(region(g,o,p,"url(#mix-orange)","umap-purchased-orange-region"),"#eda358",4,5));
  eachUmapPoint((x,y,i)=>dot(g,p.x(x),p.y(y),1.7,tab10[+buyerLabels[i%buyerLabels.length]],"umap-purchased-point"));
  drawAxes(p,umapXTicks,umapYTicks,"umap-purchased");
  axisTitle("1",1812,2012,true,"umap-purchased-y-axis-title");
  axisTitle("0",2237,2421,false,"umap-purchased-x-axis-title");
  drawLegend(2534,1633,75,162,2549,2571,1662);
})();
</script>
</body></html>
